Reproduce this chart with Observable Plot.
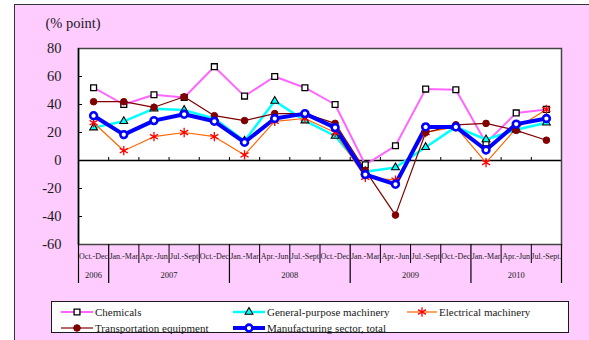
<!DOCTYPE html>
<html>
<head>
<meta charset="utf-8">
<script src="https://cdn.jsdelivr.net/npm/d3@7"></script>
<script src="https://cdn.jsdelivr.net/npm/@observablehq/plot@0.6"></script>
<style>
  body { margin: 0; background: #fff; }
  #fig { position: relative; width: 589px; height: 340px; overflow: hidden;
         font-family: "Liberation Serif", "DejaVu Serif", serif; color: #1a1a1a; }
  #panel { position: absolute; left: 14px; top: 4px; right: 0; bottom: 0;
           background: #ffccff; border-left: 1.5px solid #333; border-top: 1.5px solid #333; }
  #chart { position: absolute; left: 0; top: 0; }
  #chart svg, #chart svg text { font-family: "Liberation Serif", "DejaVu Serif", serif !important; }
  #legend { position: absolute; left: 51px; top: 301px; width: 516px; height: 30px;
            background: #fff; border: 1.5px solid #1a1a1a; }
  .item { position: absolute; display: flex; align-items: center; height: 12px;
          font-family: "Liberation Serif", "DejaVu Serif", serif; font-size: 11px; white-space: nowrap; }
  .item svg { margin-right: 2px; overflow: visible; }
</style>
</head>
<body>
<div id="fig">
  <div id="panel"></div>
  <div id="chart"></div>
  <div id="legend"></div>
</div>
<script>
// Quarterly periods, Oct.-Dec. 2006 through Jul.-Sept. 2010
const quarters = ["Oct.-Dec", "Jan.-Mar", "Apr.-Jun", "Jul.-Sept",
                  "Oct.-Dec", "Jan.-Mar", "Apr.-Jun", "Jul.-Sept",
                  "Oct.-Dec", "Jan.-Mar", "Apr.-Jun", "Jul.-Sept",
                  "Oct.-Dec", "Jan.-Mar", "Apr.-Jun", "Jul.-Sept."];
const years = ["2006", "2007", "2008", "2009", "2010"];
const yearStart = [0, 1, 5, 9, 13];
const yearEnd = [1, 5, 9, 13, 16];
const yTicks = [-60, -40, -20, 0, 20, 40, 60, 80];

// Series values (% point)
const chemicals = [52, 40, 47, 45, 67, 46, 60, 52, 40, -3, 10.5, 51, 50.5, 12.5, 34, 36.5];
const generalPurpose = [23.5, 28, 37, 36, 30, 14, 42.5, 28.5, 17.5, -8, -5, 9.5, 24, 15, 22, 27];
const electrical = [27, 7, 17, 20, 17, 4, 28, 30, 20, -12, -14, 20, 24, -1.5, 23, 36.5];
const transportation = [42, 42, 38, 45.5, 32, 28.5, 33.5, 33.5, 26.5, -7, -39, 20, 25.5, 26.5, 21.5, 14.5];
const manufacturing = [32, 18.5, 28.5, 33, 28, 13, 30, 33.5, 23.5, -10, -17, 24, 24, 7.5, 26, 30];

const seriesNames = ["Chemicals", "General-purpose machinery", "Electrical machinery",
                     "Transportation equipment", "Manufacturing sector, total"];
const seriesValues = [chemicals, generalPurpose, electrical, transportation, manufacturing];

// Drawing styles per series (in draw order)
const styles = [
  {line: "#ff66ff", width: 2,   symbol: "square",   r: 3.3, fill: "#fff",    stroke: "#000",    sw: 1.3},
  {line: "#00ffff", width: 2.5, symbol: "triangle", r: 2.9, fill: "#00ffff", stroke: "#000",    sw: 1.1},
  {line: "#ff6600", width: 1.2, symbol: "asterisk", r: 4.4, fill: "none",    stroke: "#ff0000", sw: 1.3},
  {line: "#800000", width: 1.2, symbol: "circle",   r: 3.3, fill: "#800000", stroke: "#800000", sw: 1},
  {line: "#0000ff", width: 4,   symbol: "circle",   r: 3.4, fill: "#fff",    stroke: "#0000ff", sw: 2.6}
];

const serif = "Liberation Serif, DejaVu Serif, serif";
const rows = seriesValues.map((vals, s) => vals.map((v, i) => ({series: seriesNames[s], i, value: v})));

const n = quarters.length;
const innerBounds = d3.range(1, n);
const yearBounds = [0, ...yearEnd];

const seriesMarks = [];
rows.forEach((data, s) => {
  const st = styles[s];
  seriesMarks.push(Plot.line(data, {
    x: d => d.i + 0.5, y: "value", stroke: st.line, strokeWidth: st.width,
    strokeLinejoin: "miter", curve: "linear"
  }));
});
rows.forEach((data, s) => {
  const st = styles[s];
  seriesMarks.push(Plot.dot(data, {
    x: d => d.i + 0.5, y: "value", symbol: () => st.symbol, r: st.r,
    fill: st.fill, stroke: st.stroke, strokeWidth: st.sw
  }));
});

const chart = Plot.plot({
  width: 589,
  height: 340,
  marginLeft: 78,
  marginRight: 28,
  marginTop: 48,
  marginBottom: 96,
  style: {background: "transparent", fontFamily: serif, overflow: "visible", color: "#1a1a1a"},
  x: {type: "linear", domain: [0, n], axis: null},
  y: {domain: [-60, 80], axis: null},
  symbol: {type: "identity"},
  marks: [
    Plot.frame({fill: "#fff", stroke: "none"}),
    // zero line with small upward ticks at quarter boundaries
    Plot.ruleY([0], {stroke: "#000", strokeWidth: 1.5}),
    Plot.ruleX(innerBounds, {x: d => d, y1: 0, y2: 0, insetTop: -3, stroke: "#000", strokeWidth: 1}),
    // inward ticks on the value axis
    Plot.ruleY(yTicks, {y: d => d, x1: 0, x2: 0, insetRight: -4, stroke: "#000", strokeWidth: 1}),
    ...seriesMarks,
    Plot.frame({stroke: "#444", strokeWidth: 1.5}),
    Plot.ruleX([0], {stroke: "#000", strokeWidth: 1.5}),
    // value axis labels
    Plot.text(yTicks, {x: 0, y: d => d, text: d => String(d), textAnchor: "end", dx: -17, fontSize: 14.5, fontFamily: serif, fill: "#1a1a1a"}),
    Plot.text(["(% point)"], {x: 0, y: 80, dx: -33, dy: -25, textAnchor: "start", fontSize: 14.5, fontFamily: serif, fill: "#1a1a1a"}),
    // period table below the plot
    Plot.ruleX(innerBounds.filter(b => !yearBounds.includes(b)), {x: d => d, y1: -60, y2: -60, insetBottom: -19, stroke: "#000", strokeWidth: 1}),
    Plot.ruleX(yearBounds, {x: d => d, y1: -60, y2: -60, insetBottom: -39, stroke: "#000", strokeWidth: 1.2}),
    Plot.text(quarters, {x: (d, i) => i + 0.5, y: () => -60, dy: 12, text: d => d, fontSize: 8, fontFamily: serif, fill: "#1a1a1a"}),
    Plot.text(years, {x: (d, i) => (yearStart[i] + yearEnd[i]) / 2, y: () => -60, dy: 31, text: d => d, fontSize: 8.5, fontFamily: serif, fill: "#1a1a1a"})
  ]
});
document.getElementById("chart").appendChild(chart);

// Legend
const legendPos = [[61, 312], [233, 312], [407, 312], [61, 328], [233, 328]];
const fig = document.getElementById("fig");
function symbolPath(name, r) {
  const size = Math.PI * r * r;
  const type = {square: d3.symbolSquare, triangle: d3.symbolTriangle, circle: d3.symbolCircle, asterisk: d3.symbolAsterisk}[name];
  return d3.symbol(type, size)();
}
seriesNames.forEach((name, s) => {
  const st = styles[s];
  const [lx, ly] = legendPos[s];
  const w = s === 2 ? 30 : 32;
  const item = document.createElement("div");
  item.className = "item";
  item.style.left = lx + "px";
  item.style.top = (ly - 6) + "px";
  const svg = d3.create("svg").attr("width", w).attr("height", 12);
  svg.append("line").attr("x1", 0).attr("x2", w).attr("y1", 6).attr("y2", 6)
    .attr("stroke", st.line).attr("stroke-width", st.width);
  svg.append("path").attr("d", symbolPath(st.symbol, st.r)).attr("transform", `translate(${w / 2},6)`)
    .attr("fill", st.fill).attr("stroke", st.stroke).attr("stroke-width", st.sw);
  item.appendChild(svg.node());
  const span = document.createElement("span");
  span.textContent = name;
  item.appendChild(span);
  fig.appendChild(item);
});
</script>
</body>
</html>
